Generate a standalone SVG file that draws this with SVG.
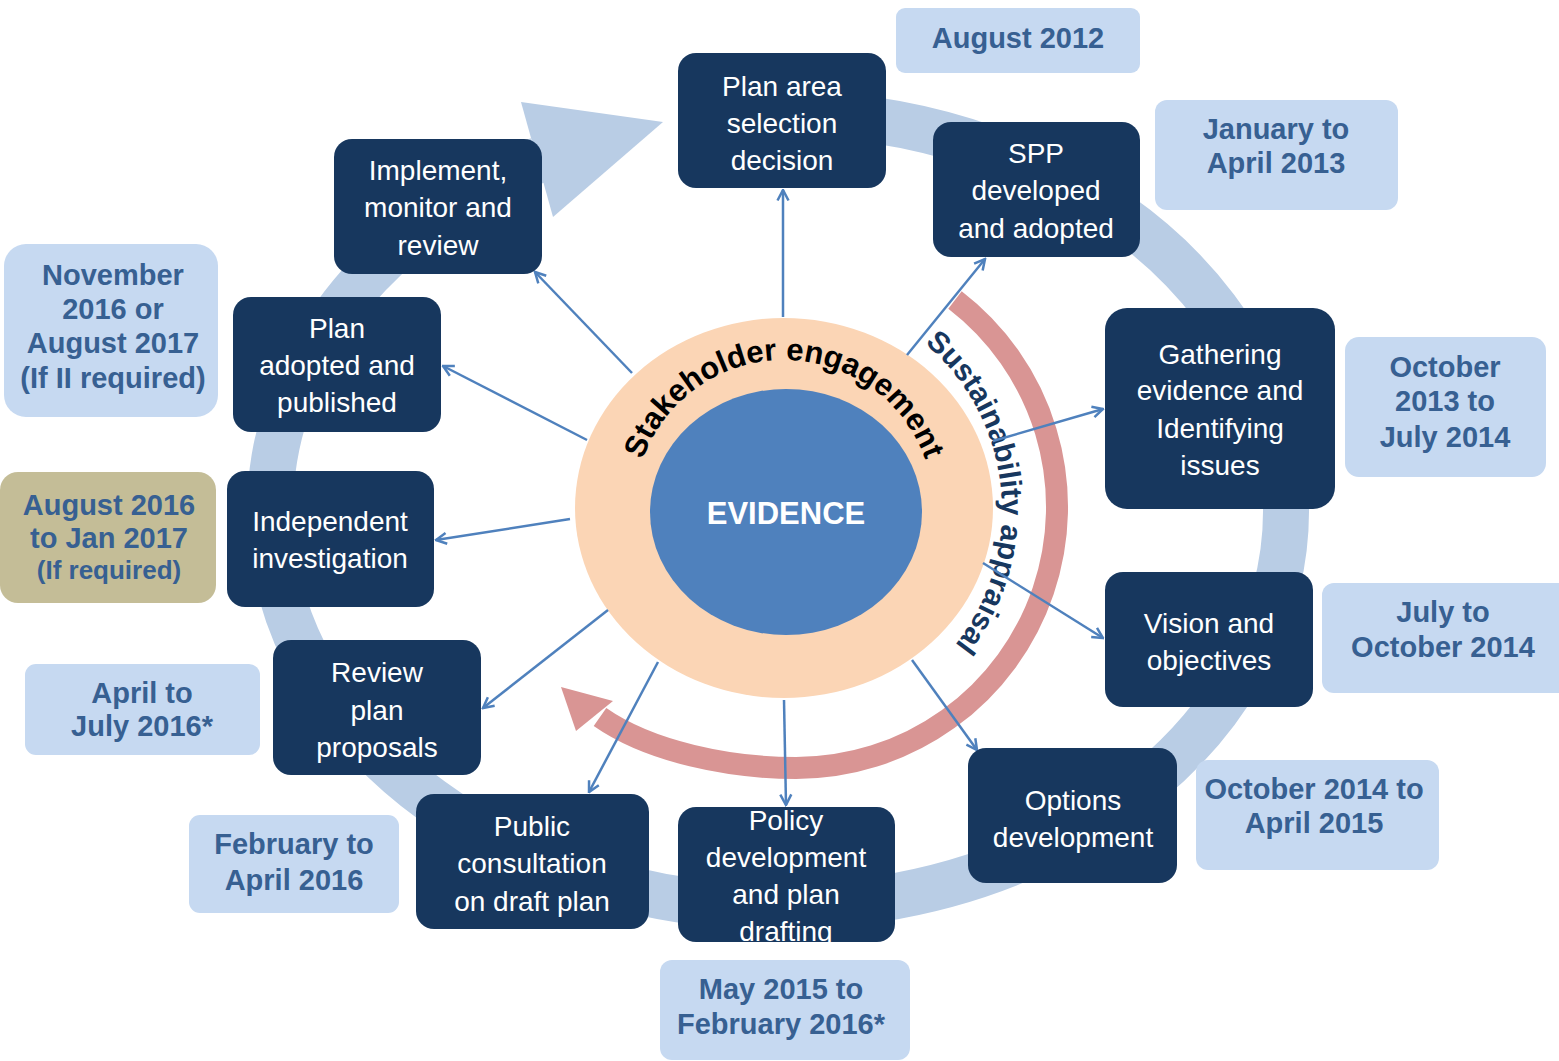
<svg xmlns="http://www.w3.org/2000/svg" width="1559" height="1061" viewBox="0 0 1559 1061">
  <style>
    .node rect { fill: #17375e; }
    .node text { fill: #ffffff; font-family: "Liberation Sans", Arial, sans-serif; font-size: 28px; text-anchor: middle; }
    .date rect { fill: #c6d9f1; }
    .date text { fill: #376092; font-family: "Liberation Sans", Arial, sans-serif; font-size: 29px; font-weight: bold; text-anchor: middle; }
    .date .small { font-size: 26px; }
    .conn line { stroke: #4f81bd; stroke-width: 2.5; marker-end: url(#ah); }
  </style>
  <defs>
    <marker id="ah" viewBox="0 0 14 14" refX="12.5" refY="7" markerWidth="14" markerHeight="14" markerUnits="userSpaceOnUse" orient="auto">
      <path d="M2 1.5 L12.5 7 L2 12.5" fill="none" stroke="#4f81bd" stroke-width="2.5"/>
    </marker>
    <path id="arcStake" d="M 634 510 A 150 150 0 0 1 934 510"/>
    <path id="arcSust" d="M 784 292 A 218 218 0 0 1 784 728"/>
    <clipPath id="clipPolicy">
      <rect x="678" y="807" width="217" height="135" rx="18"/>
    </clipPath>
  </defs>

  <!-- outer cycle ring ending in a large arrowhead -->
  <g id="cycle">
    <path d="M 822 114.5 A 508 397 0 1 1 539.5 159.5" fill="none" stroke="#b9cde5" stroke-width="46"/>
    <polygon points="521,102 663,122 553,217" fill="#b9cde5"/>
  </g>

  <!-- centre: stakeholder ring and evidence core -->
  <g id="core">
    <ellipse cx="784" cy="508" rx="209" ry="190" fill="#fbd5b5"/>
    <ellipse cx="786" cy="512" rx="136" ry="123" fill="#4f81bd"/>
    <text x="786" y="524" font-family="Liberation Sans, Arial, sans-serif" font-size="31" font-weight="bold" fill="#ffffff" text-anchor="middle">EVIDENCE</text>
    <text font-family="Liberation Sans, Arial, sans-serif" font-size="31" font-weight="bold" fill="#000000" text-anchor="middle">
      <textPath href="#arcStake" startOffset="50%">Stakeholder engagement</textPath>
    </text>
  </g>

  <!-- sustainability appraisal arc -->
  <g id="appraisal">
    <path d="M 955 300 A 261 261 0 0 1 796 768 C 730 768 650 752 600 717" fill="none" stroke="#d99594" stroke-width="22"/>
    <polygon points="561,687 613,701 576,731" fill="#d99594"/>
    <text font-family="Liberation Sans, Arial, sans-serif" font-size="30" font-weight="bold" fill="#17375e" text-anchor="middle">
      <textPath href="#arcSust" startOffset="46.8%">Sustainability appraisal</textPath>
    </text>
  </g>

  <!-- connectors from the centre to each stage -->
  <g id="connectors" class="conn">
    <line x1="783" y1="317" x2="783" y2="190"/>
    <line x1="907" y1="355" x2="985" y2="259"/>
    <line x1="993" y1="441" x2="1103" y2="409"/>
    <line x1="983" y1="563" x2="1103" y2="638"/>
    <line x1="912" y1="660" x2="977" y2="750"/>
    <line x1="784" y1="700" x2="786" y2="805"/>
    <line x1="658" y1="662" x2="589" y2="792"/>
    <line x1="608" y1="610" x2="483" y2="708"/>
    <line x1="570" y1="519" x2="436" y2="540"/>
    <line x1="587" y1="440" x2="443" y2="366"/>
    <line x1="632" y1="373" x2="535" y2="272"/>
  </g>

  <!-- stage boxes -->
  <g id="n-plan-area" class="node">
    <rect x="678" y="53" width="208" height="135" rx="18"/>
    <text x="782" y="96">Plan area</text>
    <text x="782" y="133">selection</text>
    <text x="782" y="170">decision</text>
  </g>
  <g id="n-spp" class="node">
    <rect x="933" y="122" width="207" height="135" rx="18"/>
    <text x="1036" y="163">SPP</text>
    <text x="1036" y="200">developed</text>
    <text x="1036" y="238">and adopted</text>
  </g>
  <g id="n-gathering" class="node">
    <rect x="1105" y="308" width="230" height="201" rx="22"/>
    <text x="1220" y="364">Gathering</text>
    <text x="1220" y="400">evidence and</text>
    <text x="1220" y="438">Identifying</text>
    <text x="1220" y="475">issues</text>
  </g>
  <g id="n-vision" class="node">
    <rect x="1105" y="572" width="208" height="135" rx="18"/>
    <text x="1209" y="633">Vision and</text>
    <text x="1209" y="670">objectives</text>
  </g>
  <g id="n-options" class="node">
    <rect x="968" y="748" width="209" height="135" rx="18"/>
    <text x="1073" y="810">Options</text>
    <text x="1073" y="847">development</text>
  </g>
  <g id="n-policy" class="node">
    <rect x="678" y="807" width="217" height="135" rx="18"/>
    <g clip-path="url(#clipPolicy)">
      <text x="786" y="830">Policy</text>
      <text x="786" y="867">development</text>
      <text x="786" y="904">and plan</text>
      <text x="786" y="941">drafting</text>
    </g>
  </g>
  <g id="n-public" class="node">
    <rect x="416" y="794" width="233" height="135" rx="18"/>
    <text x="532" y="836">Public</text>
    <text x="532" y="873">consultation</text>
    <text x="532" y="911">on draft plan</text>
  </g>
  <g id="n-review" class="node">
    <rect x="273" y="640" width="208" height="135" rx="18"/>
    <text x="377" y="682">Review</text>
    <text x="377" y="720">plan</text>
    <text x="377" y="757">proposals</text>
  </g>
  <g id="n-independent" class="node">
    <rect x="227" y="471" width="207" height="136" rx="18"/>
    <text x="330" y="531">Independent</text>
    <text x="330" y="568">investigation</text>
  </g>
  <g id="n-adopted" class="node">
    <rect x="233" y="297" width="208" height="135" rx="18"/>
    <text x="337" y="338">Plan</text>
    <text x="337" y="375">adopted and</text>
    <text x="337" y="412">published</text>
  </g>
  <g id="n-implement" class="node">
    <rect x="334" y="139" width="208" height="135" rx="18"/>
    <text x="438" y="180">Implement,</text>
    <text x="438" y="217">monitor and</text>
    <text x="438" y="255">review</text>
  </g>

  <!-- timing labels -->
  <g id="d-aug2012" class="date">
    <rect x="896" y="8" width="244" height="65" rx="9"/>
    <text x="1018" y="48">August 2012</text>
  </g>
  <g id="d-jan2013" class="date">
    <rect x="1155" y="100" width="243" height="110" rx="12"/>
    <text x="1276" y="139">January to</text>
    <text x="1276" y="173">April 2013</text>
  </g>
  <g id="d-oct2013" class="date">
    <rect x="1345" y="337" width="201" height="140" rx="14"/>
    <text x="1445" y="377">October</text>
    <text x="1445" y="411">2013 to</text>
    <text x="1445" y="447">July 2014</text>
  </g>
  <g id="d-jul2014" class="date">
    <rect x="1322" y="583" width="250" height="110" rx="12"/>
    <text x="1443" y="622">July to</text>
    <text x="1443" y="657">October 2014</text>
  </g>
  <g id="d-oct2014" class="date">
    <rect x="1196" y="760" width="243" height="110" rx="12"/>
    <text x="1314" y="799">October 2014 to</text>
    <text x="1314" y="833">April 2015</text>
  </g>
  <g id="d-may2015" class="date">
    <rect x="660" y="960" width="250" height="100" rx="12"/>
    <text x="781" y="999">May 2015 to</text>
    <text x="781" y="1034">February 2016*</text>
  </g>
  <g id="d-feb2016" class="date">
    <rect x="189" y="815" width="210" height="98" rx="11"/>
    <text x="294" y="854">February to</text>
    <text x="294" y="890">April 2016</text>
  </g>
  <g id="d-apr2016" class="date">
    <rect x="25" y="664" width="235" height="91" rx="11"/>
    <text x="142" y="703">April to</text>
    <text x="142" y="736">July 2016*</text>
  </g>
  <g id="d-aug2016" class="date">
    <rect x="0" y="472" width="216" height="131" rx="18" style="fill:#c4bd97"/>
    <text x="109" y="515">August 2016</text>
    <text x="109" y="548">to Jan 2017</text>
    <text x="109" y="579" class="small">(If required)</text>
  </g>
  <g id="d-nov2016" class="date">
    <rect x="4" y="244" width="214" height="173" rx="22"/>
    <text x="113" y="285">November</text>
    <text x="113" y="319">2016 or</text>
    <text x="113" y="353">August 2017</text>
    <text x="113" y="388">(If II required)</text>
  </g>
</svg>
